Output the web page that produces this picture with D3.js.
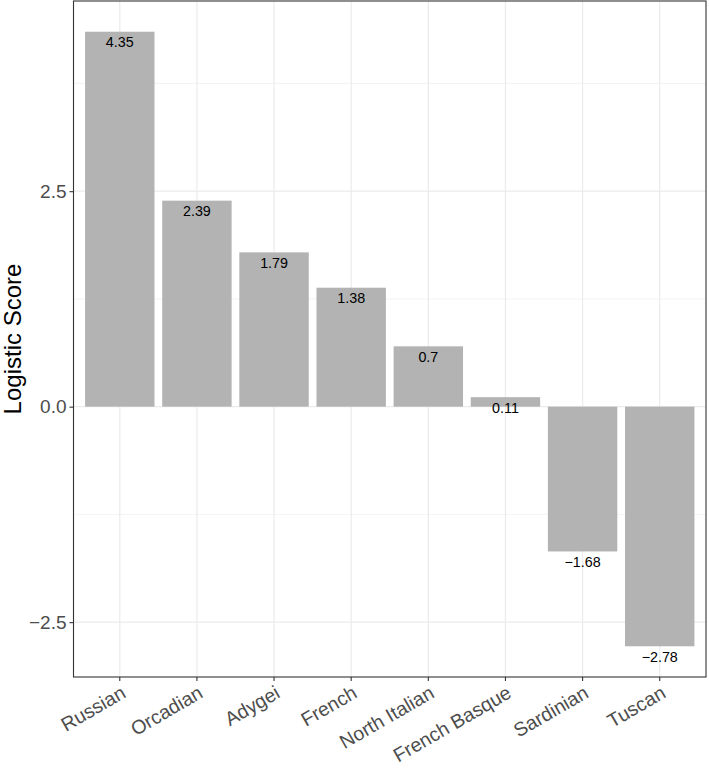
<!DOCTYPE html>
<html>
<head>
<meta charset="utf-8">
<script src="https://cdn.jsdelivr.net/npm/d3@7"></script>
<style>
  html, body { margin: 0; padding: 0; background: #fff; }
  svg { display: block; }
  text { font-family: "Liberation Sans", Arial, Helvetica, sans-serif; }
</style>
</head>
<body>
<svg id="chart" width="709" height="771"></svg>
<script>
const categories = ["Russian", "Orcadian", "Adygei", "French", "North Italian", "French Basque", "Sardinian", "Tuscan"];
const scores = [4.35, 2.39, 1.79, 1.38, 0.7, 0.11, -1.68, -2.78];
const labels = ["4.35", "2.39", "1.79", "1.38", "0.7", "0.11", "\u22121.68", "\u22122.78"];
const yTicks = [-2.5, 0, 2.5];
const yMinorTicks = [-1.25, 1.25, 3.75];
const yTitle = "Logistic Score";

const svg = d3.select("#chart");
const W = 709, H = 771;
const panel = { left: 73.5, right: 706, top: 1, bottom: 677 };

const minV = d3.min(scores), maxV = d3.max(scores);
const pad = (maxV - minV) * 0.05;
const y = d3.scaleLinear().domain([minV - pad, maxV + pad]).range([panel.bottom, panel.top]);
const x = d3.scaleBand().domain(categories).range([panel.left, panel.right]).paddingInner(0.1).paddingOuter(0.15);

const g = svg.append("g");

// minor grid
g.selectAll("line.minor").data(yMinorTicks).enter().append("line")
  .attr("x1", panel.left).attr("x2", panel.right)
  .attr("y1", d => y(d)).attr("y2", d => y(d))
  .attr("stroke", "#EBEBEB").attr("stroke-width", 0.6);
// major grid horizontal
g.selectAll("line.majorY").data(yTicks).enter().append("line")
  .attr("x1", panel.left).attr("x2", panel.right)
  .attr("y1", d => y(d)).attr("y2", d => y(d))
  .attr("stroke", "#EBEBEB").attr("stroke-width", 1.2);
// major grid vertical
g.selectAll("line.majorX").data(categories).enter().append("line")
  .attr("y1", panel.top).attr("y2", panel.bottom)
  .attr("x1", d => x(d) + x.bandwidth() / 2).attr("x2", d => x(d) + x.bandwidth() / 2)
  .attr("stroke", "#EBEBEB").attr("stroke-width", 1.2);

// bars
g.selectAll("rect.bar").data(categories).enter().append("rect")
  .attr("x", d => x(d))
  .attr("width", x.bandwidth())
  .attr("y", (d, i) => y(Math.max(0, scores[i])))
  .attr("height", (d, i) => Math.abs(y(scores[i]) - y(0)))
  .attr("fill", "#B3B3B3");

// value labels
g.selectAll("text.val").data(categories).enter().append("text")
  .attr("x", d => x(d) + x.bandwidth() / 2)
  .attr("y", (d, i) => y(scores[i]) + 15.5)
  .attr("text-anchor", "middle")
  .attr("font-size", 14.3)
  .attr("fill", "#000")
  .text((d, i) => labels[i]);

// panel border
g.append("rect")
  .attr("x", panel.left).attr("y", panel.top)
  .attr("width", panel.right - panel.left).attr("height", panel.bottom - panel.top)
  .attr("fill", "none").attr("stroke", "#333333").attr("stroke-width", 1.1);

// y axis
const yAxis = d3.axisLeft(y).tickValues(yTicks).tickSize(4).tickPadding(3)
  .tickFormat(d => d3.format(".1f")(d).replace("-", "\u2212"));
const ya = svg.append("g").attr("transform", `translate(${panel.left},0)`).call(yAxis);
ya.select(".domain").remove();
ya.selectAll(".tick line").attr("stroke", "#333333").attr("stroke-width", 1.1);
ya.selectAll(".tick text").attr("font-size", 19).attr("fill", "#4D4D4D")
  .attr("font-family", "Liberation Sans, Arial, sans-serif");

// x axis
const xAxis = d3.axisBottom(x).tickSize(4).tickPadding(3);
const xa = svg.append("g").attr("transform", `translate(0,${panel.bottom})`).call(xAxis);
xa.select(".domain").remove();
xa.selectAll(".tick line").attr("stroke", "#333333").attr("stroke-width", 1.1);
xa.selectAll(".tick text")
  .attr("font-size", 19.5).attr("fill", "#4D4D4D")
  .attr("font-family", "Liberation Sans, Arial, sans-serif")
  .attr("text-anchor", "end")
  .attr("x", 0).attr("y", 0).attr("dy", "0.75em")
  .attr("transform", "translate(0,7) rotate(-30)");

// y title
svg.append("text")
  .attr("transform", `translate(${21},${(panel.top + panel.bottom) / 2}) rotate(-90)`)
  .attr("text-anchor", "middle")
  .attr("font-size", 24)
  .attr("fill", "#000")
  .text(yTitle);
</script>
</body>
</html>
